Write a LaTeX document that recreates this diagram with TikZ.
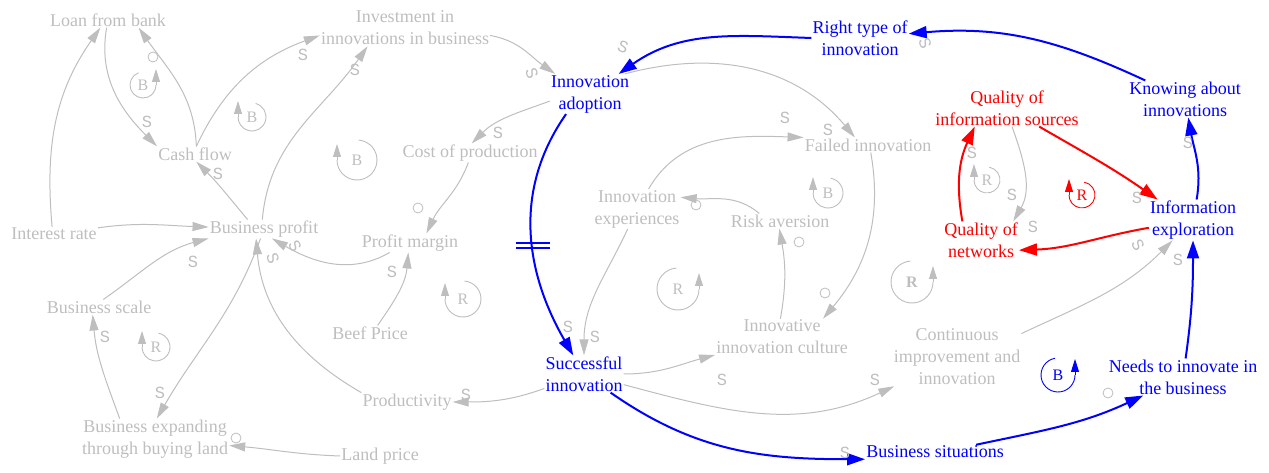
\documentclass[tikz,border=0pt]{standalone}
\usepackage{fontspec}
\setmainfont{Liberation Serif}
\newfontfamily\monof{Liberation Mono}
\usetikzlibrary{arrows.meta,decorations.markings}
\definecolor{cg}{RGB}{190,190,190}
\begin{document}
\begin{tikzpicture}[x=1pt,y=1pt,font=\fontsize{18}{22}\selectfont,
  var/.style={inner sep=1pt,align=center,text=cg},
  bv/.style={var,text=blue},
  rv/.style={var,text=red},
  gl/.style={draw=cg,line width=1pt,-{Triangle[length=16pt,width=9pt]}},
  bl/.style={draw=blue,line width=2pt,-{Triangle[length=18pt,width=12pt]}},
  rl/.style={draw=red,line width=2pt,-{Triangle[length=18pt,width=12pt]}},
  pol/.style={text=cg,font=\monof\fontsize{17}{17}\selectfont,inner sep=0pt},
  opol/.style={draw=cg,circle,minimum size=10pt,inner sep=0pt,line width=0.8pt},
  lp/.style={font=\fontsize{16}{16}\selectfont,inner sep=0pt},
  lpc/.style={line width=0.9pt},
  lpa/.style={line width=0.9pt,-{Triangle[length=13pt,width=8pt]}},
  delay/.style={postaction={decorate,decoration={markings,mark=at position 0.54 with {\pgftransformresetnontranslations\draw[blue,line width=2pt,-] (-17pt,-2.5pt)--(17pt,-2.5pt) (-17pt,2.5pt)--(17pt,2.5pt);}}}}
]
\useasboundingbox (0,0) rectangle (1269,473);

% variables
\node[var] (loan) at (108,453) {Loan from bank};
\node[var] (invest) at (405,445) {Investment in\\innovations in business};
\node[var] (cash) at (195,319) {Cash flow};
\node[var] (interest) at (54,239) {Interest rate};
\node[var] (profit) at (264,244) {Business profit};
\node[var] (cost) at (470,320) {Cost of production};
\node[var] (margin) at (410,230) {Profit margin};
\node[var] (scale) at (99,166) {Business scale};
\node[var] (beef) at (370,140) {Beef Price};
\node[var] (expand) at (155,34) {Business expanding\\through buying land};
\node[var] (land) at (380,17) {Land price};
\node[var] (product) at (407,71) {Productivity};
\node[var] (failed) at (868,328) {Failed innovation};
\node[var] (exper) at (637,264) {Innovation\\experiences};
\node[var] (risk) at (780,252) {Risk aversion};
\node[var] (culture) at (782,136) {Innovative\\innovation culture};
\node[var] (contin) at (957,116) {Continuous\\improvement and\\innovation};
\node[bv] (adopt) at (590,379) {Innovation\\adoption};
\node[bv] (right) at (860,435) {Right type of\\innovation};
\node[bv] (knowing) at (1185,374) {Knowing about\\innovations};
\node[bv] (explore) at (1193,253) {Information\\exploration};
\node[bv] (success) at (584,99) {Successful\\innovation};
\node[bv] (situ) at (935,21) {Business situations};
\node[bv] (needs) at (1183,96) {Needs to innovate in\\the business};
\node[rv] (qsrc) at (1007,365) {Quality of\\information sources};
\node[rv] (qnet) at (981,233) {Quality of\\networks};

% gray links
\draw[gl] (loan.-100) to[out=-100,in=135] (cash.north west);
\draw[gl] (cash.80) to[out=92,in=-55] (loan.-14);
\draw[gl] (interest.105) to[out=95,in=-125] (loan.-135);
\draw[gl] (interest) to[out=8,in=178] (profit);
\draw[gl] (profit.150) to[out=130,in=-45] (cash.-80);
\draw[gl] (cash.80) to[out=65,in=200] (invest.185);
\draw[gl] (profit.100) to[out=85,in=-125] (invest.-154);
\draw[gl] (invest.-5) to[out=-10,in=145] (adopt.150);
\draw[gl] (adopt.-170) to[out=-160,in=45] (cost.80);
\draw[gl] (cost.-100) to[out=-110,in=65] (margin.30);
\draw[gl] (margin.-155) to[out=-150,in=-30] (profit.-50);
\draw[gl] (beef.45) to[out=55,in=-95] (margin.-100);
\draw[gl] (scale.60) to[out=35,in=195] (profit.south west);
\draw[gl] (profit.-110) to[out=-110,in=60] (expand.85);
\draw[gl] (expand.150) to[out=110,in=-85] (scale.-130);
\draw[gl] (land.180) to[out=178,in=-5] (expand.-5);
\draw[gl] (product.north west) to[out=150,in=-85] (profit.-130);
\draw[gl] (success.-160) to[out=-160,in=0] (product.0);
\draw[gl] (adopt.30) to[out=15,in=130] (failed.150);
\draw[gl] (exper.60) to[out=60,in=178] (failed.north west);
\draw[gl] (risk.160) to[out=140,in=-5] (exper.15);
\draw[gl] (failed.-70) to[out=-80,in=50] (culture.24);
\draw[gl] (culture.95) to[out=80,in=-80] (risk.-95);
\draw[gl] (exper.-115) to[out=-115,in=90] (success.90);
\draw[gl] (success.0) to[out=0,in=195] (culture.195);
\draw[gl] (success.-15) to[out=-15,in=205] (contin.205);
\draw[gl] (contin.20) to[out=25,in=-135] (explore.-135);
\draw[gl] (qsrc.-75) to[out=-70,in=60] (qnet.30);

% blue links
\draw[bl,delay] (adopt.-140) to[out=-125,in=120] (success.120);
\draw[bl] (right.180) to[out=178,in=35] (adopt.35);
\draw[bl] (knowing.155) to[out=155,in=5] (right.5);
\draw[bl] (explore.80) to[out=80,in=-80] (knowing.-80);
\draw[bl] (needs.82) to[out=82,in=-90] (explore.-90);
\draw[bl] (situ.10) to[out=12,in=205] (needs.205);
\draw[bl] (success.-35) to[out=-35,in=180] (situ.south west);

% red links
\draw[rl] (qnet.135) to[out=100,in=-115] (qsrc.-150);
\draw[rl] (qsrc.-30) to[out=-30,in=145] (explore.150);
\draw[rl] (explore.190) to[out=190,in=2] (qnet.-15);

% polarities
\node[pol] (p1) at (147,351) {S};
\node[opol] (p2) at (153,416) {};
\node[pol] (p3) at (218,299) {S};
\node[pol] (p4) at (303,418) {S};
\node[pol] (p5) at (355,403) {S};
\node[pol,rotate=-70] (p6) at (532,400) {S};
\node[pol] (p7) at (498,340) {S};
\node[opol] (p8) at (418,265) {};
\node[pol,rotate=-60] (p9) at (295,227) {S};
\node[pol,rotate=-70] (p10) at (273,215) {S};
\node[pol] (p11) at (392,201) {S};
\node[pol] (p12) at (193,211) {S};
\node[pol] (p13) at (160,80) {S};
\node[pol] (p14) at (105,136) {S};
\node[opol] (p15) at (236,35) {};
\node[pol] (p16) at (466,78) {S};
\node[pol,rotate=-20] (p17) at (623,426) {S};
\node[pol,rotate=-70] (p18) at (925,430) {S};
\node[pol] (p19) at (828,343) {S};
\node[pol] (p20) at (785,355) {S};
\node[opol] (p21) at (696,268) {};
\node[opol] (p22) at (825,180) {};
\node[opol] (p23) at (799,231) {};
\node[pol] (p24) at (568,146) {S};
\node[pol] (p25) at (595,136) {S};
\node[pol] (p26) at (722,93) {S};
\node[pol] (p27) at (875,93) {S};
\node[pol] (p28) at (845,20) {S};
\node[opol] (p29) at (1108,80) {};
\node[pol] (p30) at (1178,213) {S};
\node[pol,rotate=-60] (p31) at (1138,228) {S};
\node[pol] (p32) at (1188,330) {S};
\node[pol] (p33) at (972,320) {S};
\node[pol] (p34) at (1012,278) {S};
\node[pol] (p35) at (1033,246) {S};
\node[pol] (p36) at (1137,275) {S};

% loop markers (cw: arrow on the left; ccw: arrow on the right)
\node[lp,text=cg] (l1) at (143,388) {B};
\draw[lpc,cg] ([shift={(110:13pt)}]l1.center) arc[start angle=110,end angle=360,radius=13pt];
\draw[lpa,cg] ([shift={(13pt,0pt)}]l1.center) -- ++(0,16pt);
\node[lp,text=cg] (l2) at (252,356) {B};
\draw[lpc,cg] ([shift={(75:14pt)}]l2.center) arc[start angle=75,end angle=-180,radius=14pt];
\draw[lpa,cg] ([shift={(-14pt,0pt)}]l2.center) -- ++(0,16pt);
\node[lp,text=cg] (l3) at (357,313) {B};
\draw[lpc,cg] ([shift={(85:20pt)}]l3.center) arc[start angle=85,end angle=-180,radius=20pt];
\draw[lpa,cg] ([shift={(-20pt,0pt)}]l3.center) -- ++(0,16pt);
\node[lp,text=cg] (l4) at (828,280) {B};
\draw[lpc,cg] ([shift={(80:15pt)}]l4.center) arc[start angle=80,end angle=-180,radius=15pt];
\draw[lpa,cg] ([shift={(-15pt,0pt)}]l4.center) -- ++(0,16pt);
\node[lp,text=cg] (l5) at (987,293) {R};
\draw[lpc,cg] ([shift={(80:13pt)}]l5.center) arc[start angle=80,end angle=-180,radius=13pt];
\draw[lpa,cg] ([shift={(-13pt,0pt)}]l5.center) -- ++(0,16pt);
\node[lp,text=red] (l6) at (1082,278) {R};
\draw[lpc,red] ([shift={(80:13pt)}]l6.center) arc[start angle=80,end angle=-180,radius=13pt];
\draw[lpa,red] ([shift={(-13pt,0pt)}]l6.center) -- ++(0,16pt);
\node[lp,text=cg] (l7) at (463,174) {R};
\draw[lpc,cg] ([shift={(85:18pt)}]l7.center) arc[start angle=85,end angle=-180,radius=18pt];
\draw[lpa,cg] ([shift={(-18pt,0pt)}]l7.center) -- ++(0,16pt);
\node[lp,text=cg] (l8) at (156,126) {R};
\draw[lpc,cg] ([shift={(80:14pt)}]l8.center) arc[start angle=80,end angle=-180,radius=14pt];
\draw[lpa,cg] ([shift={(-14pt,0pt)}]l8.center) -- ++(0,16pt);
\node[lp,text=cg] (l9) at (678,184) {R};
\draw[lpc,cg] ([shift={(95:21pt)}]l9.center) arc[start angle=95,end angle=360,radius=21pt];
\draw[lpa,cg] ([shift={(21pt,0pt)}]l9.center) -- ++(0,16pt);
\node[lp,text=cg,font=\bfseries\fontsize{16}{16}\selectfont] (l10) at (912,191) {R};
\draw[lpc,cg] ([shift={(95:21pt)}]l10.center) arc[start angle=95,end angle=360,radius=21pt];
\draw[lpa,cg] ([shift={(21pt,0pt)}]l10.center) -- ++(0,16pt);
\node[lp,text=blue] (l11) at (1058,98) {B};
\draw[lpc,blue] ([shift={(100:17pt)}]l11.center) arc[start angle=100,end angle=360,radius=17pt];
\draw[lpa,blue] ([shift={(17pt,0pt)}]l11.center) -- ++(0,16pt);
\end{tikzpicture}
\end{document}
